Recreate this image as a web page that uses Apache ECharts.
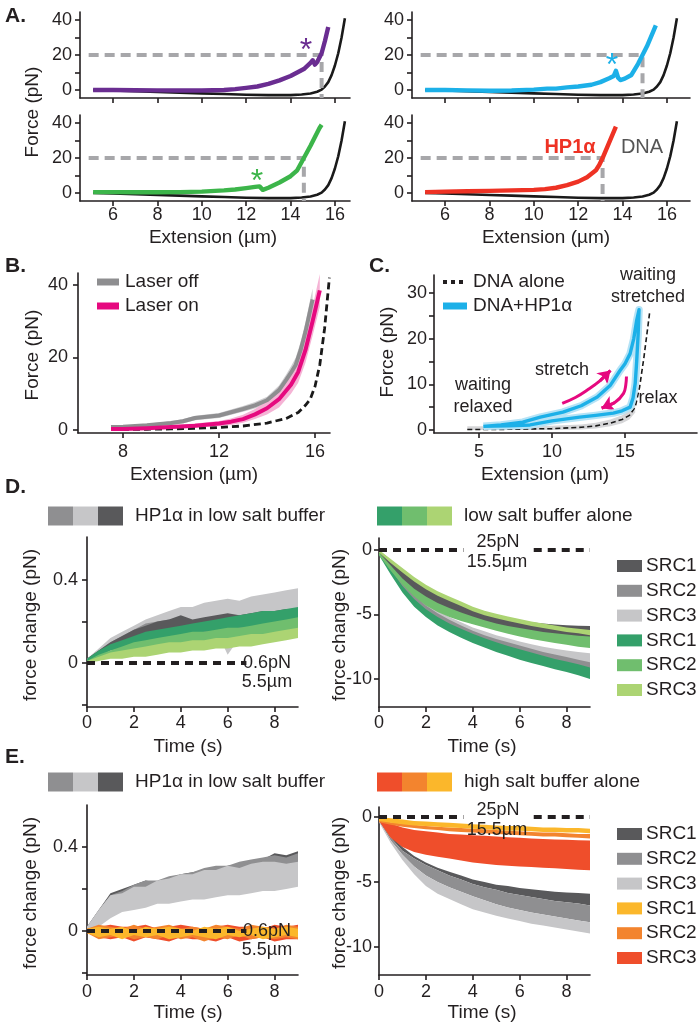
<!DOCTYPE html>
<html>
<head>
<meta charset="utf-8">
<script src="https://cdn.jsdelivr.net/npm/echarts@6/dist/echarts.min.js"></script>
<style>html,body{margin:0;background:#fff}#chart{width:700px;height:1030px}</style>
</head>
<body>
<div id="chart"></div>
<script>
// ---- panel A : force-extension curves ----
const dnaX = [5.1, 6, 7, 8, 9, 10, 11, 12, 13, 14, 14.5, 14.9, 15.2, 15.4, 15.55, 15.7, 15.85, 16.0, 16.15, 16.3, 16.45];
const dnaY = [0, -0.3, -0.7, -1.1, -1.5, -1.9, -2.3, -2.7, -2.9, -2.9, -2.6, -2.0, -1.0, 0.2, 2, 4.5, 8.5, 14, 21, 30, 41];
const purpleX = [5.1, 6, 7, 8, 9, 10, 11, 11.5, 12, 12.5, 13, 13.5, 14, 14.3, 14.6, 14.9, 15.0, 15.1, 15.2, 15.4, 15.55, 15.7];
const purpleY = [0, 0, -0.1, -0.2, -0.3, -0.3, 0, 0.5, 1.2, 2, 3.5, 5.5, 8, 10, 12, 15.5, 17, 14.5, 16, 21, 28, 36];
const blueX = [5.1, 6, 7, 8, 9, 10, 10.6, 11, 11.5, 12, 12.6, 13, 13.4, 13.6, 13.7, 13.8, 13.9, 14.1, 14.4, 14.7, 14.9, 15.1, 15.3, 15.5];
const blueY = [0, 0, -0.2, -0.4, -0.3, 0.2, 0.8, 0.8, 1.5, 2, 3, 4.5, 6.7, 8, 11, 7, 5.7, 6.5, 8.6, 15, 20, 25, 31, 37];
const greenX = [5.1, 6, 7, 8, 9, 10, 11, 11.5, 12, 12.4, 12.6, 12.75, 13, 13.5, 14, 14.3, 14.6, 14.9, 15.1, 15.3, 15.4];
const greenY = [0.5, 0.5, 0.4, 0.4, 0.5, 0.8, 1.5, 2, 2.8, 3.5, 3.8, 1.8, 3, 6, 9.6, 13, 20, 27, 32, 37, 39];
const redX = [5.1, 6, 7, 8, 9, 10, 10.5, 11, 11.5, 12, 12.4, 12.8, 12.95, 13.1, 13.3, 13.5, 13.7];
const redY = [0.5, 0.8, 1, 1.2, 1.5, 1.8, 2.2, 3, 4.5, 6.5, 9, 13, 16, 20, 26, 32, 38];
const crossA = [15.4, 14.9, 14.6, 13.1];   // extension where HP1a curve reaches 20 pN
const refForceA = 20;

// ---- panel B ----
const offX = [7.5, 8, 9, 10, 10.5, 11, 12, 13, 13.5, 14, 14.5, 14.8, 15, 15.2, 15.4, 15.6, 15.8, 15.9];
const offMean = [0.8, 0.9, 1.3, 1.9, 2.4, 3.3, 4.0, 5.8, 6.8, 8.2, 11, 13.8, 15.8, 18, 22, 27, 33, 36];
const offLo = [0.5, 0.6, 0.9, 1.4, 1.8, 2.7, 3.3, 5.0, 5.9, 7.2, 9.7, 12.3, 14.0, 16, 19.7, 24.4, 30, 33];
const offHi = [1.1, 1.2, 1.7, 2.4, 3.0, 3.9, 4.7, 6.6, 7.7, 9.2, 12.3, 15.3, 17.6, 20, 24.3, 29.6, 36, 39];
const onX = [7.5, 8, 9, 10, 11, 12, 12.5, 13, 13.5, 14, 14.5, 15, 15.3, 15.6, 15.9, 16.2];
const onMean = [0.3, 0.3, 0.5, 0.8, 1.2, 1.8, 2.3, 3.0, 4.3, 6.0, 8.5, 12.5, 16, 22, 30, 38.5];
const onLo = [0, 0, 0.1, 0.3, 0.6, 1.0, 1.4, 2.0, 3.0, 4.3, 6.2, 10, 13, 18.5, 26, 34];
const onHi = [0.5, 0.6, 0.9, 1.3, 1.8, 2.5, 3.2, 4.2, 5.8, 8.0, 11.8, 15, 19, 25.5, 34, 43];
const dnaBX = [7.5, 9, 10, 11, 12, 13, 14, 14.8, 15.3, 15.6, 15.8, 16.0, 16.2, 16.4, 16.6];
const dnaBY = [0.1, 0.2, 0.3, 0.45, 0.7, 1.1, 1.9, 3.2, 4.8, 6.8, 8.5, 12, 18, 28, 42];

// ---- panel C ----
const loopX = [5.3, 6.5, 8, 9.2, 10.75, 12, 13.1, 14, 14.66, 15.0, 15.35, 15.6, 15.8, 15.96,
               15.9, 15.8, 15.7, 15.55, 15.35, 14.8, 14.2, 13, 11.9, 10, 8.5, 7, 5.3];
const loopY = [0.8, 1.1, 1.7, 2.8, 3.9, 5.3, 7.2, 9.8, 13, 14.5, 16.7, 20, 24, 26.3,
               21, 15, 10.2, 7, 5.0, 4.2, 3.7, 3.2, 2.8, 2.0, 1.1, 0.9, 0.8];
const dnaCX = [4.2, 6, 8, 10, 12, 13, 14, 14.8, 15.3, 15.7, 16.0, 16.3, 16.5, 16.7];
const dnaCY = [0.1, 0.1, 0.2, 0.3, 0.6, 0.9, 1.5, 2.3, 3.2, 5, 9.4, 16, 21, 26];
const dnaCLo = [0, 0, 0, 0, 0.1, 0.3, 0.8, 1.5, 2.3, 3.8];
const dnaCHi = [0.8, 0.8, 0.8, 0.9, 1.2, 1.6, 2.3, 3.2, 4.2, 6.2];
const stretchArrowX = [10.7, 11.6, 12.4, 13.3, 14.0];
const stretchArrowY = [5.8, 7.1, 8.7, 10.8, 13.0];
const relaxArrowX = [15.1, 15.05, 14.9, 14.3, 13.4];
const relaxArrowY = [11.7, 9.8, 8.0, 6.0, 4.8];

// ---- panels D, E : force change vs time ----
const tD = [0, 0.5, 1, 1.5, 2, 2.5, 3, 3.5, 4, 4.5, 5, 5.5, 6, 6.5, 7, 7.5, 8, 8.5, 9];
// D left (0.6 pN, 5.5 um)
const dlGray1Hi = [0.02, 0.06, 0.1, 0.13, 0.16, 0.18, 0.2, 0.21, 0.23, 0.21, 0.22, 0.23, 0.24, 0.23, 0.24, 0.25, 0.25, 0.26, 0.26];
const dlGray1Lo = [0, 0.04, 0.07, 0.1, 0.12, 0.13, 0.14, 0.15, 0.16, 0.16, 0.17, 0.17, 0.18, 0.18, 0.19, 0.19, 0.2, 0.2, 0.2];
const dlGray2Hi = [0.02, 0.06, 0.1, 0.13, 0.16, 0.19, 0.2, 0.21, 0.22, 0.2, 0.21, 0.22, 0.22, 0.23, 0.24, 0.24, 0.25, 0.25, 0.26];
const dlGray2Lo = [0, 0.03, 0.06, 0.08, 0.1, 0.11, 0.12, 0.13, 0.14, 0.14, 0.14, 0.15, 0.15, 0.16, 0.16, 0.17, 0.17, 0.18, 0.18];
const dlGray3Hi = [0.02, 0.07, 0.12, 0.15, 0.18, 0.21, 0.23, 0.25, 0.27, 0.27, 0.29, 0.3, 0.31, 0.3, 0.32, 0.33, 0.34, 0.35, 0.36];
const dlGray3Lo = [0, 0.04, 0.07, 0.09, 0.1, 0.12, 0.13, 0.13, 0.14, 0.15, 0.15, 0.16, 0.04, 0.12, 0.16, 0.17, 0.18, 0.19, 0.2];
const dlGreen1Hi = [0.02, 0.06, 0.09, 0.11, 0.13, 0.15, 0.16, 0.17, 0.18, 0.19, 0.2, 0.21, 0.22, 0.23, 0.24, 0.25, 0.25, 0.26, 0.27];
const dlGreen1Lo = [0, 0.03, 0.06, 0.07, 0.09, 0.1, 0.11, 0.12, 0.13, 0.14, 0.15, 0.15, 0.16, 0.17, 0.17, 0.18, 0.18, 0.19, 0.2];
const dlGreen2Hi = [0.01, 0.04, 0.06, 0.08, 0.1, 0.11, 0.12, 0.13, 0.14, 0.15, 0.15, 0.16, 0.17, 0.17, 0.18, 0.19, 0.2, 0.21, 0.22];
const dlGreen2Lo = [0, 0.02, 0.04, 0.05, 0.06, 0.07, 0.08, 0.08, 0.09, 0.1, 0.1, 0.11, 0.11, 0.12, 0.12, 0.13, 0.13, 0.14, 0.15];
const dlGreen3Hi = [0.01, 0.03, 0.05, 0.06, 0.07, 0.08, 0.09, 0.1, 0.1, 0.11, 0.11, 0.12, 0.12, 0.13, 0.14, 0.14, 0.15, 0.16, 0.17];
const dlGreen3Lo = [0, 0.01, 0.02, 0.02, 0.03, 0.03, 0.04, 0.05, 0.05, 0.06, 0.06, 0.07, 0.07, 0.08, 0.08, 0.09, 0.1, 0.11, 0.12];
// D right (25 pN, 15.5 um)
const drGray1Hi = [0, -0.8, -1.6, -2.3, -2.9, -3.4, -3.85, -4.25, -4.6, -4.9, -5.15, -5.35, -5.5, -5.6, -5.7, -5.78, -5.84, -5.88, -5.9];
const drGray1Lo = [-0.3, -1.4, -2.4, -3.2, -3.9, -4.4, -4.8, -5.15, -5.45, -5.7, -5.95, -6.15, -6.35, -6.5, -6.65, -6.8, -6.9, -7.0, -7.1];
const drGray2Hi = [0, -1.3, -2.5, -3.5, -4.3, -4.9, -5.4, -5.85, -6.25, -6.6, -6.9, -7.15, -7.4, -7.65, -7.9, -8.1, -8.3, -8.5, -8.7];
const drGray2Lo = [-0.3, -1.7, -3.0, -4.0, -4.8, -5.4, -5.95, -6.4, -6.8, -7.15, -7.45, -7.7, -7.95, -8.2, -8.45, -8.65, -8.85, -9.05, -9.3];
const drGray3Hi = [0, -1.2, -2.3, -3.3, -4.1, -4.7, -5.2, -5.6, -6.0, -6.3, -6.6, -6.85, -7.1, -7.3, -7.5, -7.65, -7.8, -7.9, -8.0];
const drGray3Lo = [-0.3, -1.6, -2.9, -3.9, -4.7, -5.3, -5.8, -6.2, -6.6, -6.95, -7.25, -7.5, -7.75, -8.0, -8.2, -8.4, -8.6, -8.8, -9.0];
const drGreen1Hi = [0, -1.5, -2.8, -3.8, -4.6, -5.2, -5.7, -6.1, -6.5, -6.85, -7.15, -7.45, -7.7, -7.95, -8.2, -8.45, -8.65, -8.85, -9.1];
const drGreen1Lo = [-0.4, -1.9, -3.3, -4.4, -5.2, -5.85, -6.35, -6.8, -7.2, -7.55, -7.9, -8.2, -8.5, -8.75, -9.0, -9.25, -9.45, -9.7, -10.0];
const drGreen2Hi = [-0.2, -1.2, -2.2, -3.0, -3.6, -4.1, -4.5, -4.85, -5.15, -5.45, -5.7, -5.9, -6.05, -6.2, -6.35, -6.45, -6.55, -6.65, -6.7];
const drGreen2Lo = [-0.4, -1.6, -2.7, -3.6, -4.3, -4.8, -5.2, -5.5, -5.75, -6.0, -6.25, -6.5, -6.7, -6.9, -7.05, -7.2, -7.35, -7.5, -7.6];
const drGreen3Hi = [0, -0.7, -1.4, -2.1, -2.7, -3.2, -3.6, -4.0, -4.4, -4.7, -4.95, -5.15, -5.35, -5.55, -5.7, -5.85, -6.0, -6.1, -6.2];
const drGreen3Lo = [-0.2, -1.0, -1.75, -2.45, -3.05, -3.55, -3.95, -4.35, -4.75, -5.05, -5.3, -5.5, -5.7, -5.9, -6.05, -6.2, -6.35, -6.45, -6.6];
// E left (0.6 pN, 5.5 um)
const elGray1Hi = [0.02, 0.1, 0.18, 0.2, 0.22, 0.24, 0.23, 0.25, 0.27, 0.28, 0.29, 0.3, 0.31, 0.32, 0.33, 0.34, 0.37, 0.36, 0.38];
const elGray1Lo = [0, 0.04, 0.1, 0.11, 0.12, 0.13, 0.14, 0.14, 0.15, 0.16, 0.17, 0.17, 0.18, 0.19, 0.19, 0.19, 0.2, 0.21, 0.22];
const elGray2Hi = [0.02, 0.1, 0.17, 0.19, 0.22, 0.24, 0.24, 0.26, 0.27, 0.28, 0.3, 0.31, 0.31, 0.33, 0.34, 0.35, 0.36, 0.35, 0.37];
const elGray2Lo = [0, 0.03, 0.08, 0.1, 0.12, 0.14, 0.15, 0.16, 0.17, 0.17, 0.18, 0.19, 0.19, 0.2, 0.21, 0.21, 0.22, 0.22, 0.23];
const elGray3Hi = [0.02, 0.1, 0.17, 0.18, 0.21, 0.21, 0.24, 0.25, 0.27, 0.27, 0.29, 0.29, 0.31, 0.3, 0.32, 0.33, 0.33, 0.32, 0.33];
const elGray3Lo = [0, 0.02, 0.06, 0.09, 0.1, 0.11, 0.13, 0.13, 0.14, 0.15, 0.15, 0.16, 0.17, 0.17, 0.18, 0.19, 0.19, 0.2, 0.21];
const elYelHi = [0.01, 0.02, 0.01, 0.02, 0.0, 0.02, 0.01, 0.02, 0.01, 0.0, 0.02, 0.01, 0.02, 0.0, 0.01, 0.02, 0.01, 0.02, 0.01];
const elYelLo = [-0.01, -0.03, -0.02, -0.04, -0.02, -0.03, -0.02, -0.04, -0.03, -0.02, -0.03, -0.04, -0.02, -0.03, -0.02, -0.04, -0.03, -0.02, -0.03];
const elOrgHi = [0.01, 0.03, 0.02, 0.01, 0.03, 0.01, 0.02, 0.03, 0.01, 0.02, 0.01, 0.03, 0.02, 0.01, 0.03, 0.02, 0.01, 0.03, 0.02];
const elOrgLo = [-0.01, -0.04, -0.03, -0.02, -0.04, -0.03, -0.04, -0.02, -0.04, -0.03, -0.05, -0.03, -0.04, -0.02, -0.04, -0.03, -0.04, -0.03, -0.04];
const elRedHi = [0.01, 0.02, 0.03, 0.02, 0.02, 0.03, 0.01, 0.02, 0.03, 0.02, 0.01, 0.02, 0.03, 0.02, 0.02, 0.01, 0.03, 0.02, 0.03];
const elRedLo = [-0.01, -0.03, -0.04, -0.03, -0.05, -0.03, -0.04, -0.05, -0.03, -0.04, -0.04, -0.05, -0.03, -0.05, -0.04, -0.03, -0.05, -0.04, -0.04];
// E right (25 pN, 15.5 um)
const erGray1Hi = [0, -1.4, -2.3, -3.0, -3.5, -3.9, -4.2, -4.5, -4.8, -5.0, -5.2, -5.3, -5.45, -5.55, -5.65, -5.75, -5.8, -5.85, -5.9];
const erGray1Lo = [-0.2, -1.6, -2.6, -3.2, -3.7, -4.1, -4.5, -4.8, -5.15, -5.4, -5.6, -5.85, -6.0, -6.15, -6.3, -6.45, -6.55, -6.65, -6.8];
const erGray2Lo = [-0.3, -1.8, -2.9, -3.8, -4.5, -5.0, -5.4, -5.75, -6.1, -6.4, -6.7, -6.95, -7.15, -7.35, -7.5, -7.65, -7.8, -7.95, -8.1];
const erGray3Lo = [-0.4, -2.0, -3.3, -4.4, -5.3, -5.9, -6.3, -6.7, -7.1, -7.35, -7.6, -7.8, -8.0, -8.2, -8.35, -8.5, -8.65, -8.8, -8.95];
const erYelHi = [0, -0.1, -0.2, -0.3, -0.35, -0.4, -0.45, -0.5, -0.55, -0.6, -0.65, -0.7, -0.7, -0.75, -0.8, -0.8, -0.85, -0.85, -0.9];
const erYelLo = [-0.3, -0.45, -0.55, -0.65, -0.7, -0.75, -0.8, -0.85, -0.9, -0.95, -1.0, -1.05, -1.05, -1.1, -1.15, -1.15, -1.2, -1.2, -1.25];
const erOrgHi = [-0.2, -0.4, -0.5, -0.6, -0.7, -0.75, -0.8, -0.85, -0.9, -0.95, -1.0, -1.05, -1.1, -1.15, -1.2, -1.2, -1.25, -1.3, -1.3];
const erOrgLo = [-0.4, -0.6, -0.75, -0.85, -0.95, -1.0, -1.1, -1.15, -1.2, -1.25, -1.3, -1.35, -1.4, -1.45, -1.5, -1.5, -1.55, -1.6, -1.65];
const erRedHi = [0, -0.5, -0.8, -1.0, -1.1, -1.2, -1.3, -1.35, -1.4, -1.45, -1.5, -1.55, -1.6, -1.65, -1.7, -1.72, -1.75, -1.78, -1.8];
const erRedLo = [-0.3, -1.6, -2.3, -2.7, -2.9, -3.05, -3.2, -3.35, -3.5, -3.6, -3.7, -3.75, -3.8, -3.85, -3.9, -3.95, -4.0, -4.05, -4.1];
// clamp reference lines
const lowClampT = [0, 6.8];
const highClampT1 = [0, 3.6];
const highClampT2 = [6.6, 9];

// ---- styles ----
const FONT = '"Liberation Sans", Arial, Helvetica, sans-serif';
const FS = 18;
const TS = 19;
const INK = '#231f20';
const C = {
  purple: '#6a2d91', blue: '#1cb0e8', green: '#3cb54a', red: '#ee3224', dna: '#1a1a1a', ref: '#a7a7aa',
  off: '#8e8e90', offBand: '#cfcfd1', on: '#e6097f', onBand: '#f5b3d5', loop: '#1cb0e8', loopHalo: '#b5e3f6',
  g1: '#59595b', g2: '#8f8f91', g3: '#c6c6c8', gr1: '#34a06a', gr2: '#70be6e', gr3: '#acd473',
  y1: '#fbb72b', o2: '#f3842e', r3: '#ef4e2b'
};

const grids = [
  {left: 80, top: 12, width: 270, height: 86},
  {left: 412, top: 12, width: 278, height: 86},
  {left: 80, top: 115, width: 270, height: 86},
  {left: 412, top: 115, width: 278, height: 86},
  {left: 78, top: 273, width: 252, height: 160},
  {left: 434, top: 275, width: 263, height: 158},
  {left: 87, top: 537, width: 211, height: 170},
  {left: 379, top: 538, width: 211, height: 169},
  {left: 87, top: 805, width: 211, height: 170},
  {left: 379, top: 807, width: 211, height: 168}
];

const xAxes = [], yAxes = [];
function axisBase(gi, r, ticks, labels, margin) {
  return {
    gridIndex: gi, type: 'value', min: r[0], max: r[1],
    axisLine: {onZero: false, lineStyle: {color: INK, width: 1.6}},
    axisTick: {customValues: ticks, length: 5, lineStyle: {color: INK, width: 1.6}},
    axisLabel: {customValues: labels, show: labels.length > 0, margin: margin, color: INK, fontSize: FS, fontFamily: FONT},
    splitLine: {show: false}
  };
}
function addAxes(gi, xr, xt, xl, xm, yr, yt, yl, ym) {
  xAxes.push(axisBase(gi, xr, xt, xl, xm));
  yAxes.push(axisBase(gi, yr, yt, yl, ym));
}
const aXt = [6, 8, 10, 12, 14, 16], aYt = [0, 10, 20, 30, 40], aYl = [0, 20, 40];
addAxes(0, [4.51, 16.68], aXt, [], 5, [-4.57, 44.6], aYt, aYl, 8);
addAxes(1, [4.51, 17.04], aXt, [], 5, [-4.57, 44.6], aYt, aYl, 8);
addAxes(2, [4.51, 16.68], aXt, aXt, 5, [-4.57, 44.6], aYt, aYl, 8);
addAxes(3, [4.51, 17.04], aXt, aXt, 5, [-4.57, 44.6], aYt, aYl, 8);
addAxes(4, [6.125, 16.625], [8, 12, 16], [8, 12, 16], 10, [-0.83, 43.3], [0, 20, 40], [0, 20, 40], 10);
addAxes(5, [1.92, 19.93], [5, 10, 15], [5, 10, 15], 10, [-0.66, 33.9], [0, 5, 10, 15, 20, 25, 30], [0, 10, 20, 30], 7);
const tT = [0, 2, 4, 6, 8];
addAxes(6, [0, 9], tT, tT, 7, [-0.212, 0.607], [-0.2, 0, 0.2, 0.4], [0, 0.4], 9);
addAxes(7, [0, 9], tT, tT, 7, [-12.17, 0.93], [-10, -5, 0], [-10, -5, 0], 7);
addAxes(8, [0, 9], tT, tT, 8, [-0.21, 0.6], [-0.2, 0, 0.2, 0.4], [0, 0.4], 9);
addAxes(9, [0, 9], tT, tT, 8, [-12.15, 0.77], [-10, -5, 0], [-10, -5, 0], 7);

const series = [];
const pairs = (xs, ys) => xs.map((x, i) => [x, ys[i]]);
function line(gi, xs, ys, color, width, dash, smooth) {
  series.push({
    type: 'line', xAxisIndex: gi, yAxisIndex: gi, data: pairs(xs, ys), symbol: 'none', silent: true,
    smooth: smooth || false,
    lineStyle: {color: color, width: width, type: dash || 'solid', cap: 'butt', join: 'round'}
  });
}
// shaded band between lo and hi, drawn as one polygon through the axis scales
function band(gi, xs, lo, hi, color) {
  series.push({
    type: 'custom', xAxisIndex: gi, yAxisIndex: gi, silent: true, clip: true,
    data: xs.map((x, i) => [x, lo[i], hi[i]]),
    encode: {x: 0, y: [1, 2]},
    renderItem: function (params, api) {
      if (params.dataIndex !== 0) return null;
      const top = xs.map((x, i) => api.coord([x, hi[i]]));
      const bot = xs.map((x, i) => api.coord([x, lo[i]])).reverse();
      return {type: 'polygon', shape: {points: top.concat(bot)}, style: {fill: color}};
    }
  });
}
// curved arrow: smooth line plus an arrow head on its last segment
function arrow(gi, xs, ys, color) {
  line(gi, xs, ys, color, 3, null, 0.4);
  const n = xs.length;
  series.push({
    type: 'lines', coordinateSystem: 'cartesian2d', xAxisIndex: gi, yAxisIndex: gi, silent: true,
    symbol: ['none', 'arrow'], symbolSize: 12,
    lineStyle: {color: color, width: 3, opacity: 1},
    data: [{coords: [[xs[n - 2], ys[n - 2]], [xs[n - 1], ys[n - 1]]]}]
  });
}

// panel A
const aSets = [[purpleX, purpleY, C.purple], [blueX, blueY, C.blue], [greenX, greenY, C.green], [redX, redY, C.red]];
aSets.forEach((s, gi) => {
  line(gi, dnaX, dnaY, C.dna, 2.6);
  line(gi, [4.9, crossA[gi], crossA[gi]], [refForceA, refForceA, -4.57], C.ref, 4, [10, 6]);
  line(gi, s[0], s[1], s[2], 4.4);
});

// panel B
band(4, offX, offLo, offHi, C.offBand);
band(4, onX, onLo, onHi, C.onBand);
line(4, dnaBX, dnaBY, C.dna, 2.8, [7, 4]);
line(4, offX, offMean, C.off, 4);
line(4, onX, onMean, C.on, 4);

// panel C
band(5, dnaCX.slice(0, 10), dnaCLo, dnaCHi, '#d6d6d8');
line(5, dnaCX, dnaCY, C.dna, 1.6, [5, 3]);
line(5, loopX, loopY, C.loopHalo, 7.5);
line(5, loopX, loopY, C.loop, 3.4);
arrow(5, stretchArrowX, stretchArrowY, C.on);
arrow(5, relaxArrowX, relaxArrowY, C.on);

// panel D
band(6, tD, dlGray3Lo, dlGray3Hi, C.g3);
band(6, tD, dlGray2Lo, dlGray2Hi, C.g2);
band(6, tD, dlGray1Lo, dlGray1Hi, C.g1);
band(6, tD, dlGreen1Lo, dlGreen1Hi, C.gr1);
band(6, tD, dlGreen2Lo, dlGreen2Hi, C.gr2);
band(6, tD, dlGreen3Lo, dlGreen3Hi, C.gr3);
line(6, lowClampT, [0, 0], INK, 4, [8, 6]);

band(7, tD, drGray3Lo, drGray3Hi, C.g3);
band(7, tD, drGray2Lo, drGray2Hi, C.g2);
band(7, tD, drGreen1Lo, drGreen1Hi, C.gr1);
band(7, tD, drGray1Lo, drGray1Hi, C.g1);
band(7, tD, drGreen3Lo, drGreen3Hi, C.gr3);
band(7, tD, drGreen2Lo, drGreen2Hi, C.gr2);
line(7, highClampT1, [0, 0], INK, 4, [8, 6]);
line(7, highClampT2, [0, 0], INK, 4, [8, 6]);

// panel E
band(8, tD, elGray1Lo, elGray1Hi, C.g1);
band(8, tD, elGray2Lo, elGray2Hi, C.g2);
band(8, tD, elGray3Lo, elGray3Hi, C.g3);
band(8, tD, elRedLo, elRedHi, C.r3);
band(8, tD, elOrgLo, elOrgHi, C.o2);
band(8, tD, elYelLo, elYelHi, C.y1);
line(8, lowClampT, [0, 0], INK, 4, [8, 6]);

band(9, tD, erGray1Lo, erGray1Hi, C.g1);
band(9, tD, erGray2Lo, erGray1Lo, C.g2);
band(9, tD, erGray3Lo, erGray2Lo, C.g3);
band(9, tD, erRedLo, erRedHi, C.r3);
band(9, tD, erOrgLo, erOrgHi, C.o2);
band(9, tD, erYelLo, erYelHi, C.y1);
line(9, highClampT1, [0, 0], INK, 4, [8, 6]);
line(9, highClampT2, [0, 0], INK, 4, [8, 6]);

// ---- text, legends ----
const g = [];
function T(x, y, s, o) {
  o = o || {};
  g.push({
    type: 'text', x: x, y: y, rotation: o.rot || 0, z: 100,
    style: {text: s, fill: o.fill || INK, fontSize: o.size || FS, fontWeight: o.bold ? 'bold' : 'normal',
            fontFamily: FONT, align: o.align || 'center', verticalAlign: 'middle'}
  });
}
function R(x, y, w, h, fill) { g.push({type: 'rect', z: 100, shape: {x: x, y: y, width: w, height: h}, style: {fill: fill}}); }
function L(x1, y1, x2, y2, stroke, w, dash) {
  g.push({type: 'line', z: 100, shape: {x1: x1, y1: y1, x2: x2, y2: y2}, style: {stroke: stroke, lineWidth: w, lineDash: dash || null}});
}

T(5, 16, 'A.', {bold: true, size: 21, align: 'left'});
T(5, 266, 'B.', {bold: true, size: 21, align: 'left'});
T(369, 266, 'C.', {bold: true, size: 21, align: 'left'});
T(5, 487, 'D.', {bold: true, size: 21, align: 'left'});
T(5, 757, 'E.', {bold: true, size: 21, align: 'left'});

T(33, 112, 'Force (pN)', {rot: Math.PI / 2, size: TS});
T(213, 238, 'Extension (µm)', {size: TS});
T(546, 238, 'Extension (µm)', {size: TS});
T(306, 51, '*', {fill: C.purple, size: 32});
T(257, 182, '*', {fill: C.green, size: 32});
T(612, 66, '*', {fill: C.blue, size: 32});
T(570, 147, 'HP1α', {fill: C.red, bold: true, size: 20});
T(642, 147, 'DNA', {fill: '#555', size: 20});

T(33, 355, 'Force (pN)', {rot: Math.PI / 2, size: TS});
T(194, 475, 'Extension (µm)', {size: TS});
L(97, 282, 119, 282, C.off, 7);
T(125, 282, 'Laser off', {align: 'left', size: 19});
L(97, 306, 119, 306, C.on, 7);
T(125, 306, 'Laser on', {align: 'left', size: 19});

T(388, 352, 'Force (pN)', {rot: Math.PI / 2, size: TS});
T(545, 475, 'Extension (µm)', {size: TS});
L(443, 282, 467, 282, INK, 4, [4, 4]);
T(473, 282, 'DNA alone', {align: 'left', size: 19});
L(443, 306, 467, 306, C.loop, 7);
T(473, 306, 'DNA+HP1α', {align: 'left', size: 19});
T(648, 275, 'waiting');
T(648, 297, 'stretched');
T(562, 370, 'stretch');
T(483, 385, 'waiting');
T(483, 407, 'relaxed');
T(658, 398, 'relax');

function bigLegend(y, cols, x0, label) {
  cols.forEach((c, i) => R(x0 + i * 25, y - 9.5, 25, 19, c));
  T(x0 + 87, y, label, {align: 'left', size: 19});
}
bigLegend(516, [C.g2, C.g3, C.g1], 48, 'HP1α in low salt buffer');
bigLegend(516, [C.gr1, C.gr2, C.gr3], 377, 'low salt buffer alone');
bigLegend(782, [C.g2, C.g3, C.g1], 48, 'HP1α in low salt buffer');
bigLegend(782, [C.r3, C.o2, C.y1], 377, 'high salt buffer alone');

function srcLegend(y0, cols) {
  ['SRC1', 'SRC2', 'SRC3', 'SRC1', 'SRC2', 'SRC3'].forEach((s, i) => {
    const y = y0 + i * 24.8;
    R(617, y - 6, 25, 12, cols[i]);
    T(646, y, s, {align: 'left', size: 19});
  });
}
srcLegend(566, [C.g1, C.g2, C.g3, C.gr1, C.gr2, C.gr3]);
srcLegend(834, [C.g1, C.g2, C.g3, C.y1, C.o2, C.r3]);

T(31, 625, 'force change (pN)', {rot: Math.PI / 2, size: TS});
T(340, 625, 'force change (pN)', {rot: Math.PI / 2, size: TS});
T(188, 747, 'Time (s)', {size: TS});
T(482, 747, 'Time (s)', {size: TS});
T(267, 663, '0.6pN');
T(267, 682, '5.5µm');
T(498, 542, '25pN');
T(497, 562, '15.5µm');

T(31, 893, 'force change (pN)', {rot: Math.PI / 2, size: TS});
T(340, 893, 'force change (pN)', {rot: Math.PI / 2, size: TS});
T(188, 1013, 'Time (s)', {size: TS});
T(482, 1013, 'Time (s)', {size: TS});
T(267, 931, '0.6pN');
T(267, 950, '5.5µm');
T(498, 810, '25pN');
T(497, 830, '15.5µm');

const chart = echarts.init(document.getElementById('chart'), null, {renderer: 'canvas'});
chart.setOption({
  animation: false,
  backgroundColor: '#fff',
  grid: grids,
  xAxis: xAxes,
  yAxis: yAxes,
  series: series,
  graphic: g
});
</script>
</body>
</html>
